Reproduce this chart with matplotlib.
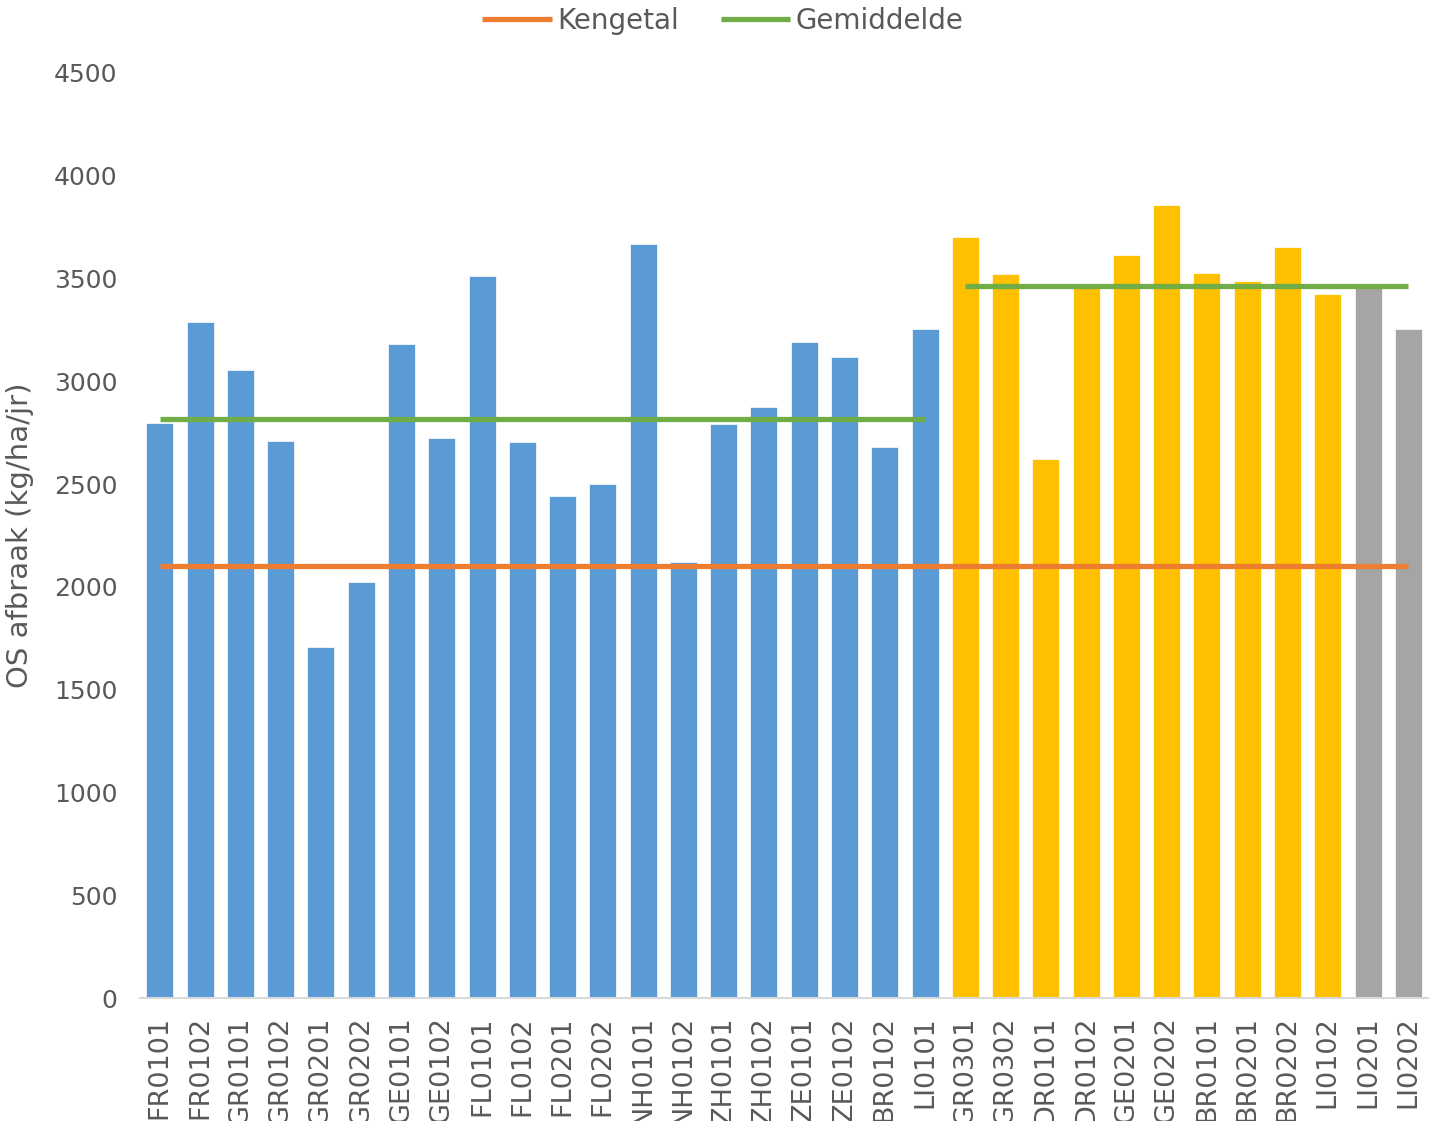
import numpy as np
import matplotlib.pyplot as plt

# data
labels = ["FR0101", "FR0102", "GR0101", "GR0102", "GR0201", "GR0202", "GE0101", "GE0102",
          "FL0101", "FL0102", "FL0201", "FL0202", "NH0101", "NH0102", "ZH0101", "ZH0102",
          "ZE0101", "ZE0102", "BR0102", "LI0101",
          "GR0301", "GR0302", "DR0101", "DR0102", "GE0201", "GE0202", "BR0101", "BR0201",
          "BR0202", "LI0102",
          "LI0201", "LI0202"]
values = [2795, 3290, 3055, 2710, 1710, 2025, 3180, 2725,
          3510, 2705, 2440, 2500, 3670, 2120, 2790, 2875,
          3190, 3120, 2680, 3255,
          3700, 3520, 2620, 3465, 3615, 3860, 3525, 3490,
          3655, 3425,
          3465, 3255]
groups = ["blue"] * 20 + ["yellow"] * 10 + ["gray"] * 2

kengetal = 2100
gem_first = 2815   # FR0101 .. LI0101
gem_second = 3462  # GR0301 .. LI0202

group_colors = {"blue": "#5B9BD5", "yellow": "#FFC000", "gray": "#A5A5A5"}
text_col = "#595959"

fig = plt.figure(figsize=(14.4, 11.21), dpi=100)
ax = fig.add_axes([0.097, 0.1097, 0.895, 0.8252])

x = np.arange(len(labels))
ax.bar(x, values, width=0.67, color=[group_colors[g] for g in groups],
       edgecolor="white", linewidth=0.5, zorder=2)

ax.plot([x[0], x[-1]], [kengetal, kengetal], color="#ED7D31", lw=3.8,
        solid_capstyle="butt", zorder=3, label="Kengetal")
ax.plot([x[0], x[19]], [gem_first, gem_first], color="#70AD47", lw=3.8,
        solid_capstyle="butt", zorder=3, label="Gemiddelde")
ax.plot([x[20], x[-1]], [gem_second, gem_second], color="#70AD47", lw=3.8,
        solid_capstyle="butt", zorder=3)

ax.set_xlim(-0.5, len(labels) - 0.5)
ax.set_ylim(0, 4500)
ax.set_yticks(np.arange(0, 4501, 500))
ax.set_xticks(x)
# labels run past the bottom edge, as in the original export
ax.set_xticklabels(labels, rotation=90, fontsize=19.5, color=text_col)
ax.tick_params(axis="y", labelsize=18, labelcolor=text_col, length=0, pad=16)
ax.tick_params(axis="x", length=0, pad=13)

for s in ["top", "right", "left"]:
    ax.spines[s].set_visible(False)
ax.spines["bottom"].set_color("#D9D9D9")
ax.spines["bottom"].set_linewidth(1.5)

ax.set_ylabel("OS afbraak (kg/ha/jr)", fontsize=21, color=text_col, labelpad=14)

leg = fig.legend(loc="upper center", bbox_to_anchor=(0.502, 1.016), ncol=2, frameon=False,
                 fontsize=20, handlelength=2.5, columnspacing=1.5, handletextpad=0.2)
for t in leg.get_texts():
    t.set_color(text_col)

fig.savefig("out.png", dpi=100)
